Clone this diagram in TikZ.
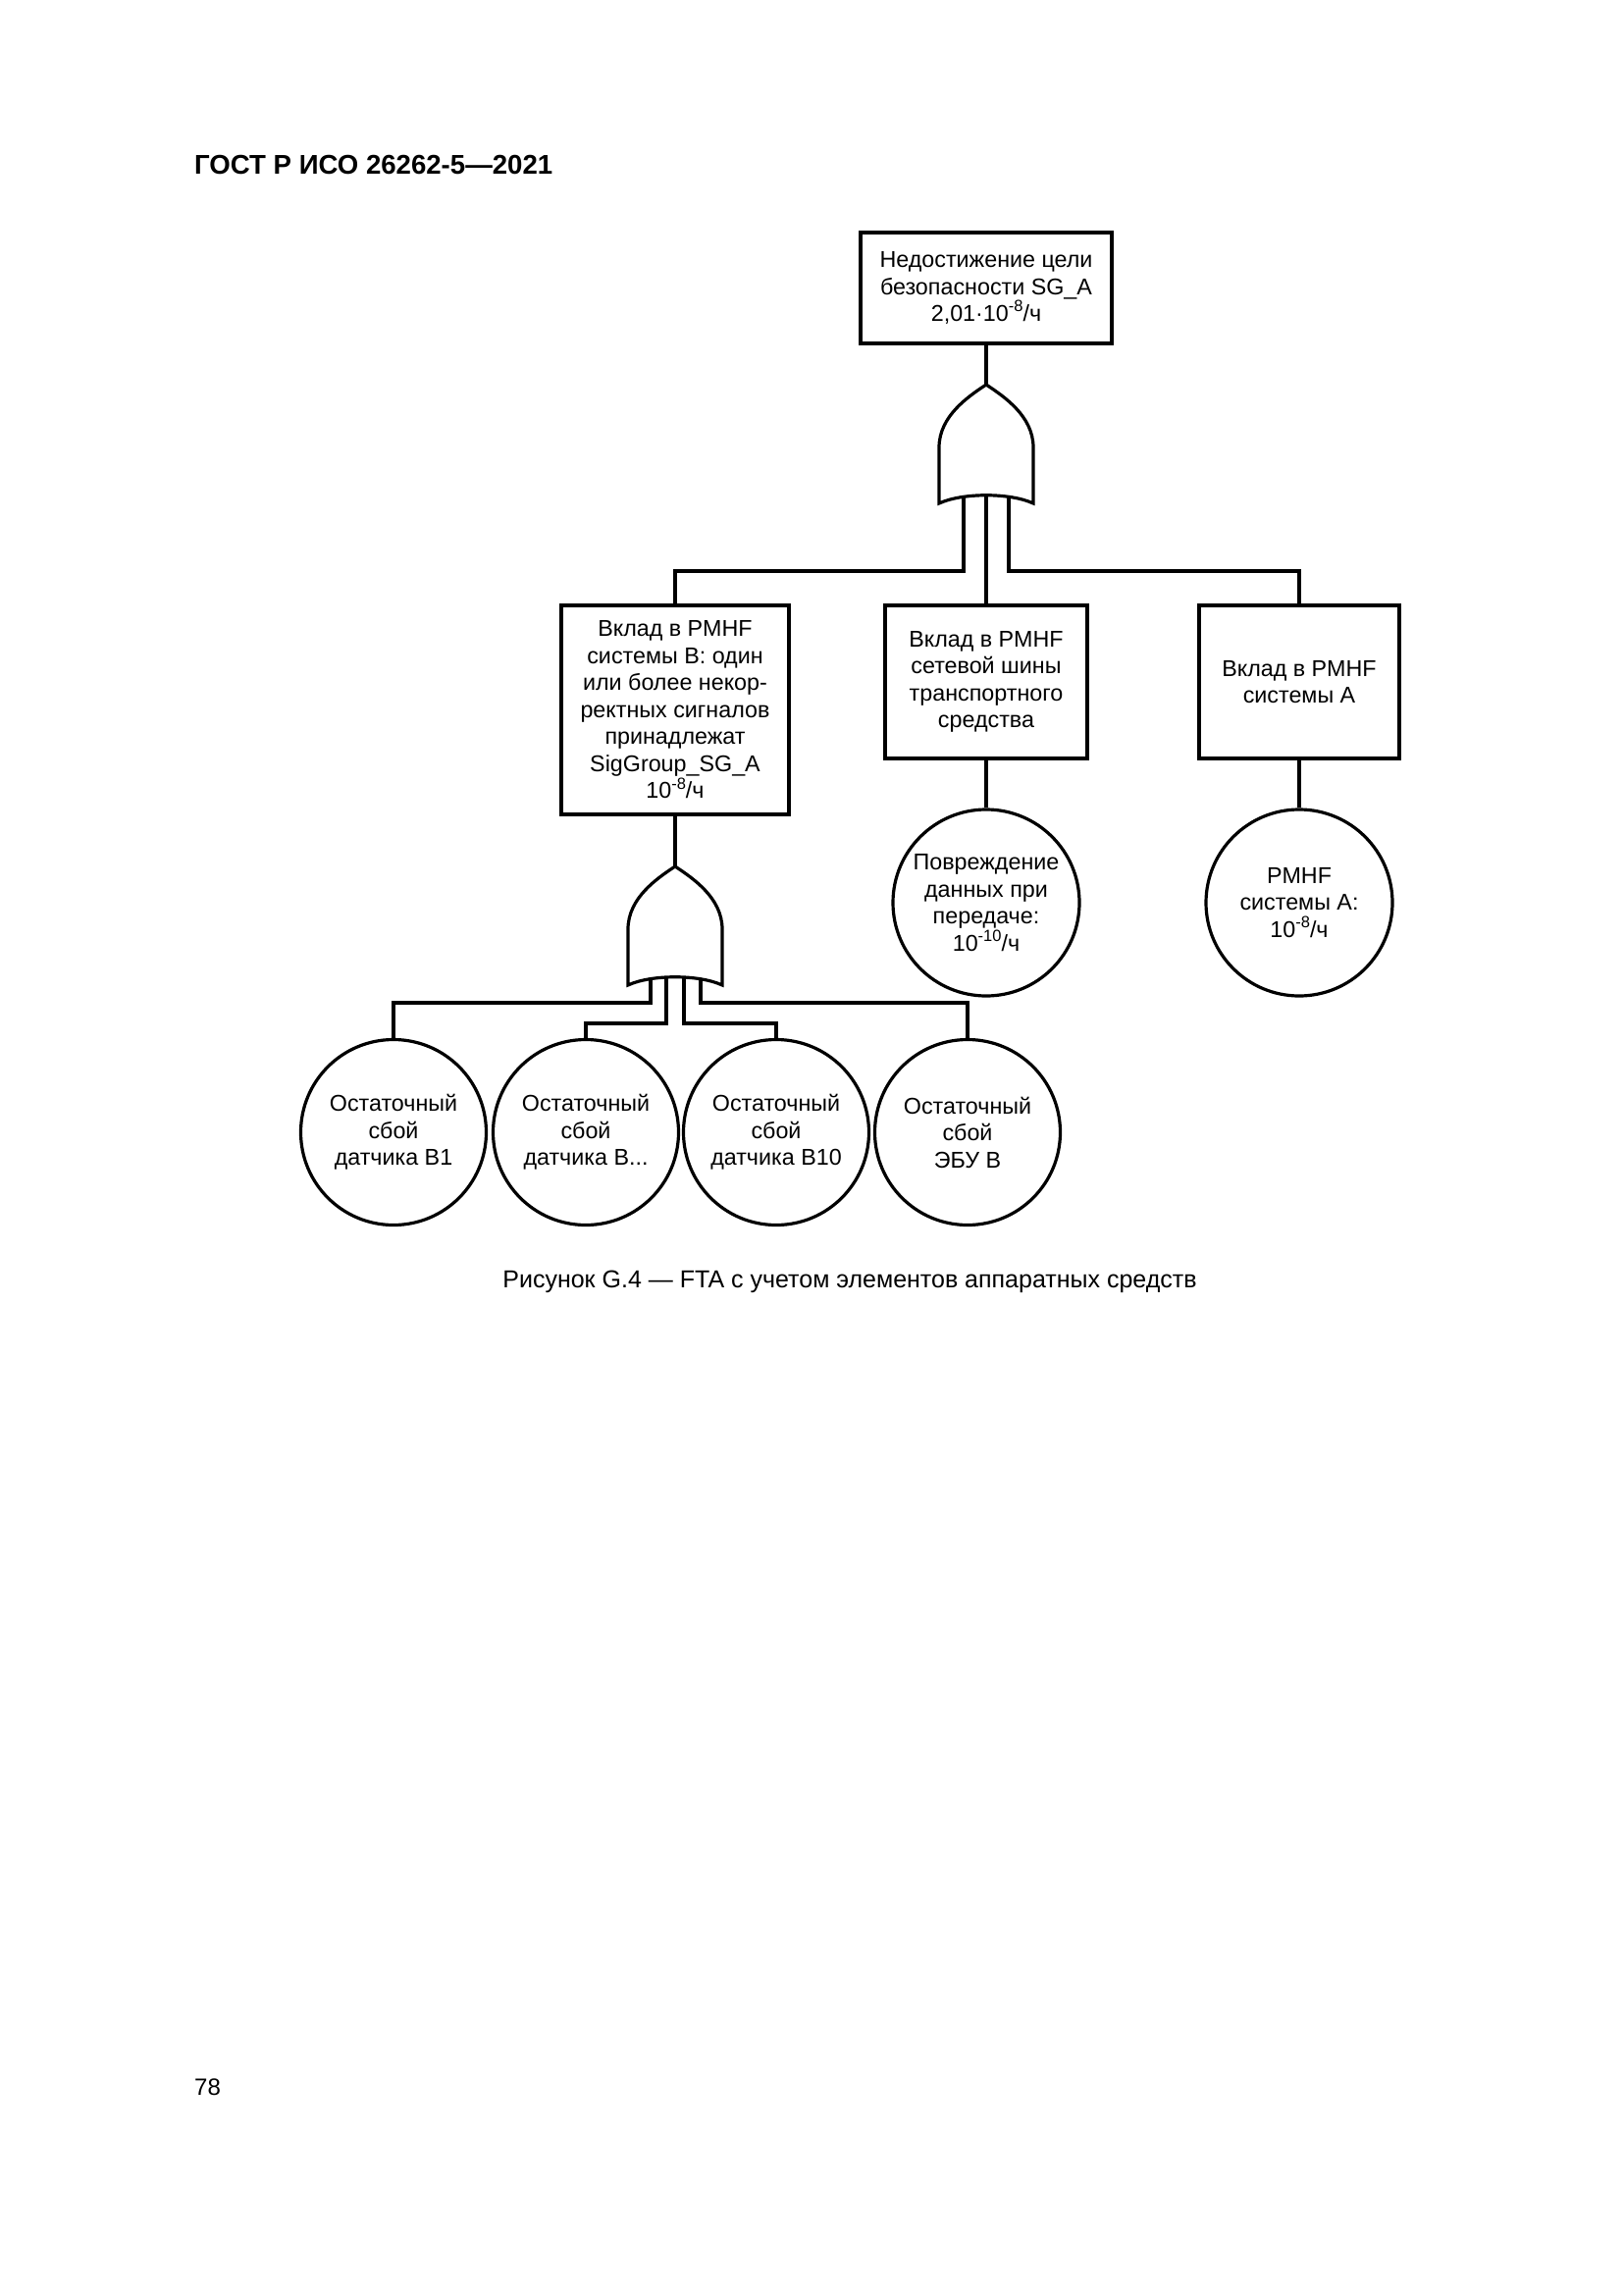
\documentclass[tikz,border=0pt]{standalone}
\usepackage{fontspec}
\setmainfont{Liberation Sans}
\newcommand\bxfont{\fontsize{23.3}{27.5}\selectfont}
\newcommand\supx[1]{\raisebox{0.42em}{\fontsize{16.5}{16.5}\selectfont #1}}
\tikzset{
  wire/.style={line width=3.2pt},
  fbox/.style={draw, line width=3.2pt, inner sep=0pt, align=center, font=\bxfont},
  evt/.style={draw, circle, line width=3.2pt, inner sep=0pt, minimum size=190pt, align=center, font=\bxfont},
  orgate/.pic={
    \draw[line width=3.2pt, fill=white] (0,0) .. controls (18,12) and (48,32) .. (48,64)
      -- (48,121) .. controls (24,110) and (-24,110) .. (-48,121)
      -- (-48,64) .. controls (-48,32) and (-18,12) .. (0,0) -- cycle;
  }
}
\begin{document}
\begin{tikzpicture}[x=1pt,y=-1pt]
\useasboundingbox[fill=white] (0,0) rectangle (1654,2339);

% header, caption, page number
\node[anchor=base west, inner sep=0pt, font=\bfseries\fontsize{27.6}{32}\selectfont] (hdr) at (198,177) {ГОСТ Р ИСО 26262-5—2021};
\node[anchor=base, inner sep=0pt, font=\fontsize{25}{30}\selectfont] (cap) at (866,1312) {Рисунок G.4 — FTA с учетом элементов аппаратных средств};
\node[anchor=base west, inner sep=0pt, font=\fontsize{24}{28}\selectfont] (pg) at (198,2135) {78};

% boxes
\node[fbox, minimum width=256pt, minimum height=113pt] (top) at (1005,293.5)
  {Недостижение цели\\безопасности SG\_A\\2,01·10\supx{-8}/ч};
\node[fbox, minimum width=232pt, minimum height=213pt] (bl) at (688,723.5)
  {Вклад в PMHF\\системы В: один\\или более некор-\\ректных сигналов\\принадлежат\\SigGroup\_SG\_A\\10\supx{-8}/ч};
\node[fbox, minimum width=206pt, minimum height=156pt] (bm) at (1005,695)
  {Вклад в PMHF\\сетевой шины\\транспортного\\средства};
\node[fbox, minimum width=204pt, minimum height=156pt] (br) at (1324,695)
  {Вклад в PMHF\\системы А};

% events
\node[evt] (em) at (1005,920) {Повреждение\\данных при\\передаче:\\10\supx{-10}/ч};
\node[evt] (er) at (1324,920) {PMHF\\системы А:\\10\supx{-8}/ч};
\node[evt, minimum size=189pt] (c1) at (401,1154) {Остаточный\\сбой\\датчика В1};
\node[evt, minimum size=189pt] (c2) at (597,1154) {Остаточный\\сбой\\датчика В...};
\node[evt, minimum size=189pt] (c3) at (791,1154) {Остаточный\\сбой\\датчика В10};
\node[evt, minimum size=189pt] (c4) at (986,1154) {Остаточный\\сбой\\ЭБУ В};

% gate coordinates
\coordinate (g1in) at (1005,392);
\coordinate (g1a) at (982,505);
\coordinate (g1b) at (1005,505);
\coordinate (g1c) at (1028,505);
\coordinate (h1) at (0,582);
\coordinate (g2in) at (688,883);
\coordinate (g2a) at (663,996);
\coordinate (g2b) at (679,996);
\coordinate (g2c) at (697,996);
\coordinate (g2d) at (714,996);
\coordinate (h2) at (0,1022);
\coordinate (h3) at (0,1043);

% connectors
\draw[wire] (top.south) -- (g1in);
\draw[wire] (g1a) |- (bl.north |- h1) -- (bl.north);
\draw[wire] (g1b) -- (bm.north);
\draw[wire] (g1c) |- (br.north |- h1) -- (br.north);
\draw[wire] (bm.south) -- (em.north);
\draw[wire] (br.south) -- (er.north);
\draw[wire] (bl.south) -- (g2in);
\draw[wire] (g2a) |- (c1.north |- h2) -- (c1.north);
\draw[wire] (g2b) |- (c2.north |- h3) -- (c2.north);
\draw[wire] (g2c) |- (c3.north |- h3) -- (c3.north);
\draw[wire] (g2d) |- (c4.north |- h2) -- (c4.north);

% OR gates
\pic at (g1in) {orgate};
\pic at (g2in) {orgate};
\end{tikzpicture}
\end{document}
